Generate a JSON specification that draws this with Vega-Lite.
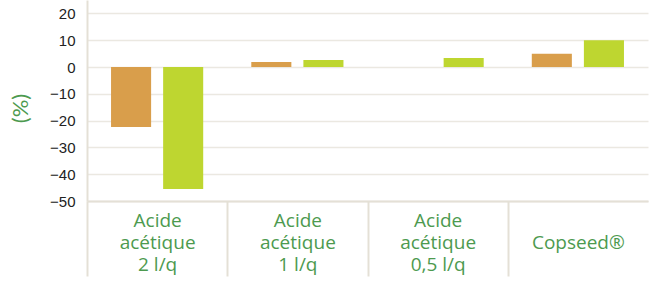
{
  "$schema": "https://vega.github.io/schema/vega-lite/v6.json",
  "width": 561,
  "height": 201,
  "autosize": "none",
  "padding": {"left": 87, "top": 0, "right": 6, "bottom": 81},
  "background": "white",
  "data": {
    "values": [
      {"cat": "Acide|acétique|2 l/q", "series": "A", "value": -22.4},
      {"cat": "Acide|acétique|2 l/q", "series": "B", "value": -45.5},
      {"cat": "Acide|acétique|1 l/q", "series": "A", "value": 1.9},
      {"cat": "Acide|acétique|1 l/q", "series": "B", "value": 2.6},
      {"cat": "Acide|acétique|0,5 l/q", "series": "A", "value": 0},
      {"cat": "Acide|acétique|0,5 l/q", "series": "B", "value": 3.4},
      {"cat": "|Copseed®", "series": "A", "value": 4.9},
      {"cat": "|Copseed®", "series": "B", "value": 10}
    ]
  },
  "mark": {"type": "bar"},
  "encoding": {
    "x": {
      "field": "cat",
      "type": "nominal",
      "sort": null,
      "scale": {"paddingInner": 0, "paddingOuter": 0},
      "axis": {
        "title": null,
        "labelExpr": "split(datum.label, '|')",
        "labelAngle": 0,
        "labelFont": "Open Sans",
        "labelFontSize": 19,
        "labelLineHeight": 22,
        "labelColor": "#4d9a4f",
        "labelBaseline": "top",
        "labelPadding": -65,
        "tickBand": "extent",
        "tickSize": 75,
        "tickColor": {"condition": {"test": "datum.value === '|Copseed®'", "value": "transparent"}, "value": "#e4e0d6"},
        "tickWidth": 2,
        "domain": true,
        "domainColor": "#e4e0d6",
        "domainWidth": 2,
        "grid": false
      }
    },
    "xOffset": {
      "field": "series",
      "sort": null,
      "scale": {"paddingInner": 0.2308, "paddingOuter": 0.4615}
    },
    "y": {
      "field": "value",
      "type": "quantitative",
      "scale": {"domain": [-50, 25], "nice": false, "zero": false},
      "axis": {
        "values": [-50, -40, -30, -20, -10, 0, 10, 20],
        "title": "(%)",
        "titleColor": "#4d9a4f",
        "titleFont": "Lato",
        "titleFontSize": 22,
        "titleFontWeight": "normal",
        "titlePadding": 17,
        "titleY": 108,
        "labelFont": "Liberation Sans",
        "labelFontSize": 15,
        "labelColor": "#222222",
        "labelPadding": 12,
        "ticks": false,
        "domain": true,
        "domainColor": "#e4e0d6",
        "domainWidth": 2,
        "grid": true,
        "gridColor": "#ebe8e1",
        "gridWidth": 1.5
      }
    },
    "color": {
      "field": "series",
      "type": "nominal",
      "scale": {"domain": ["A", "B"], "range": ["#d99e4b", "#bed630"]},
      "legend": null
    }
  },
  "config": {"view": {"stroke": null}}
}
